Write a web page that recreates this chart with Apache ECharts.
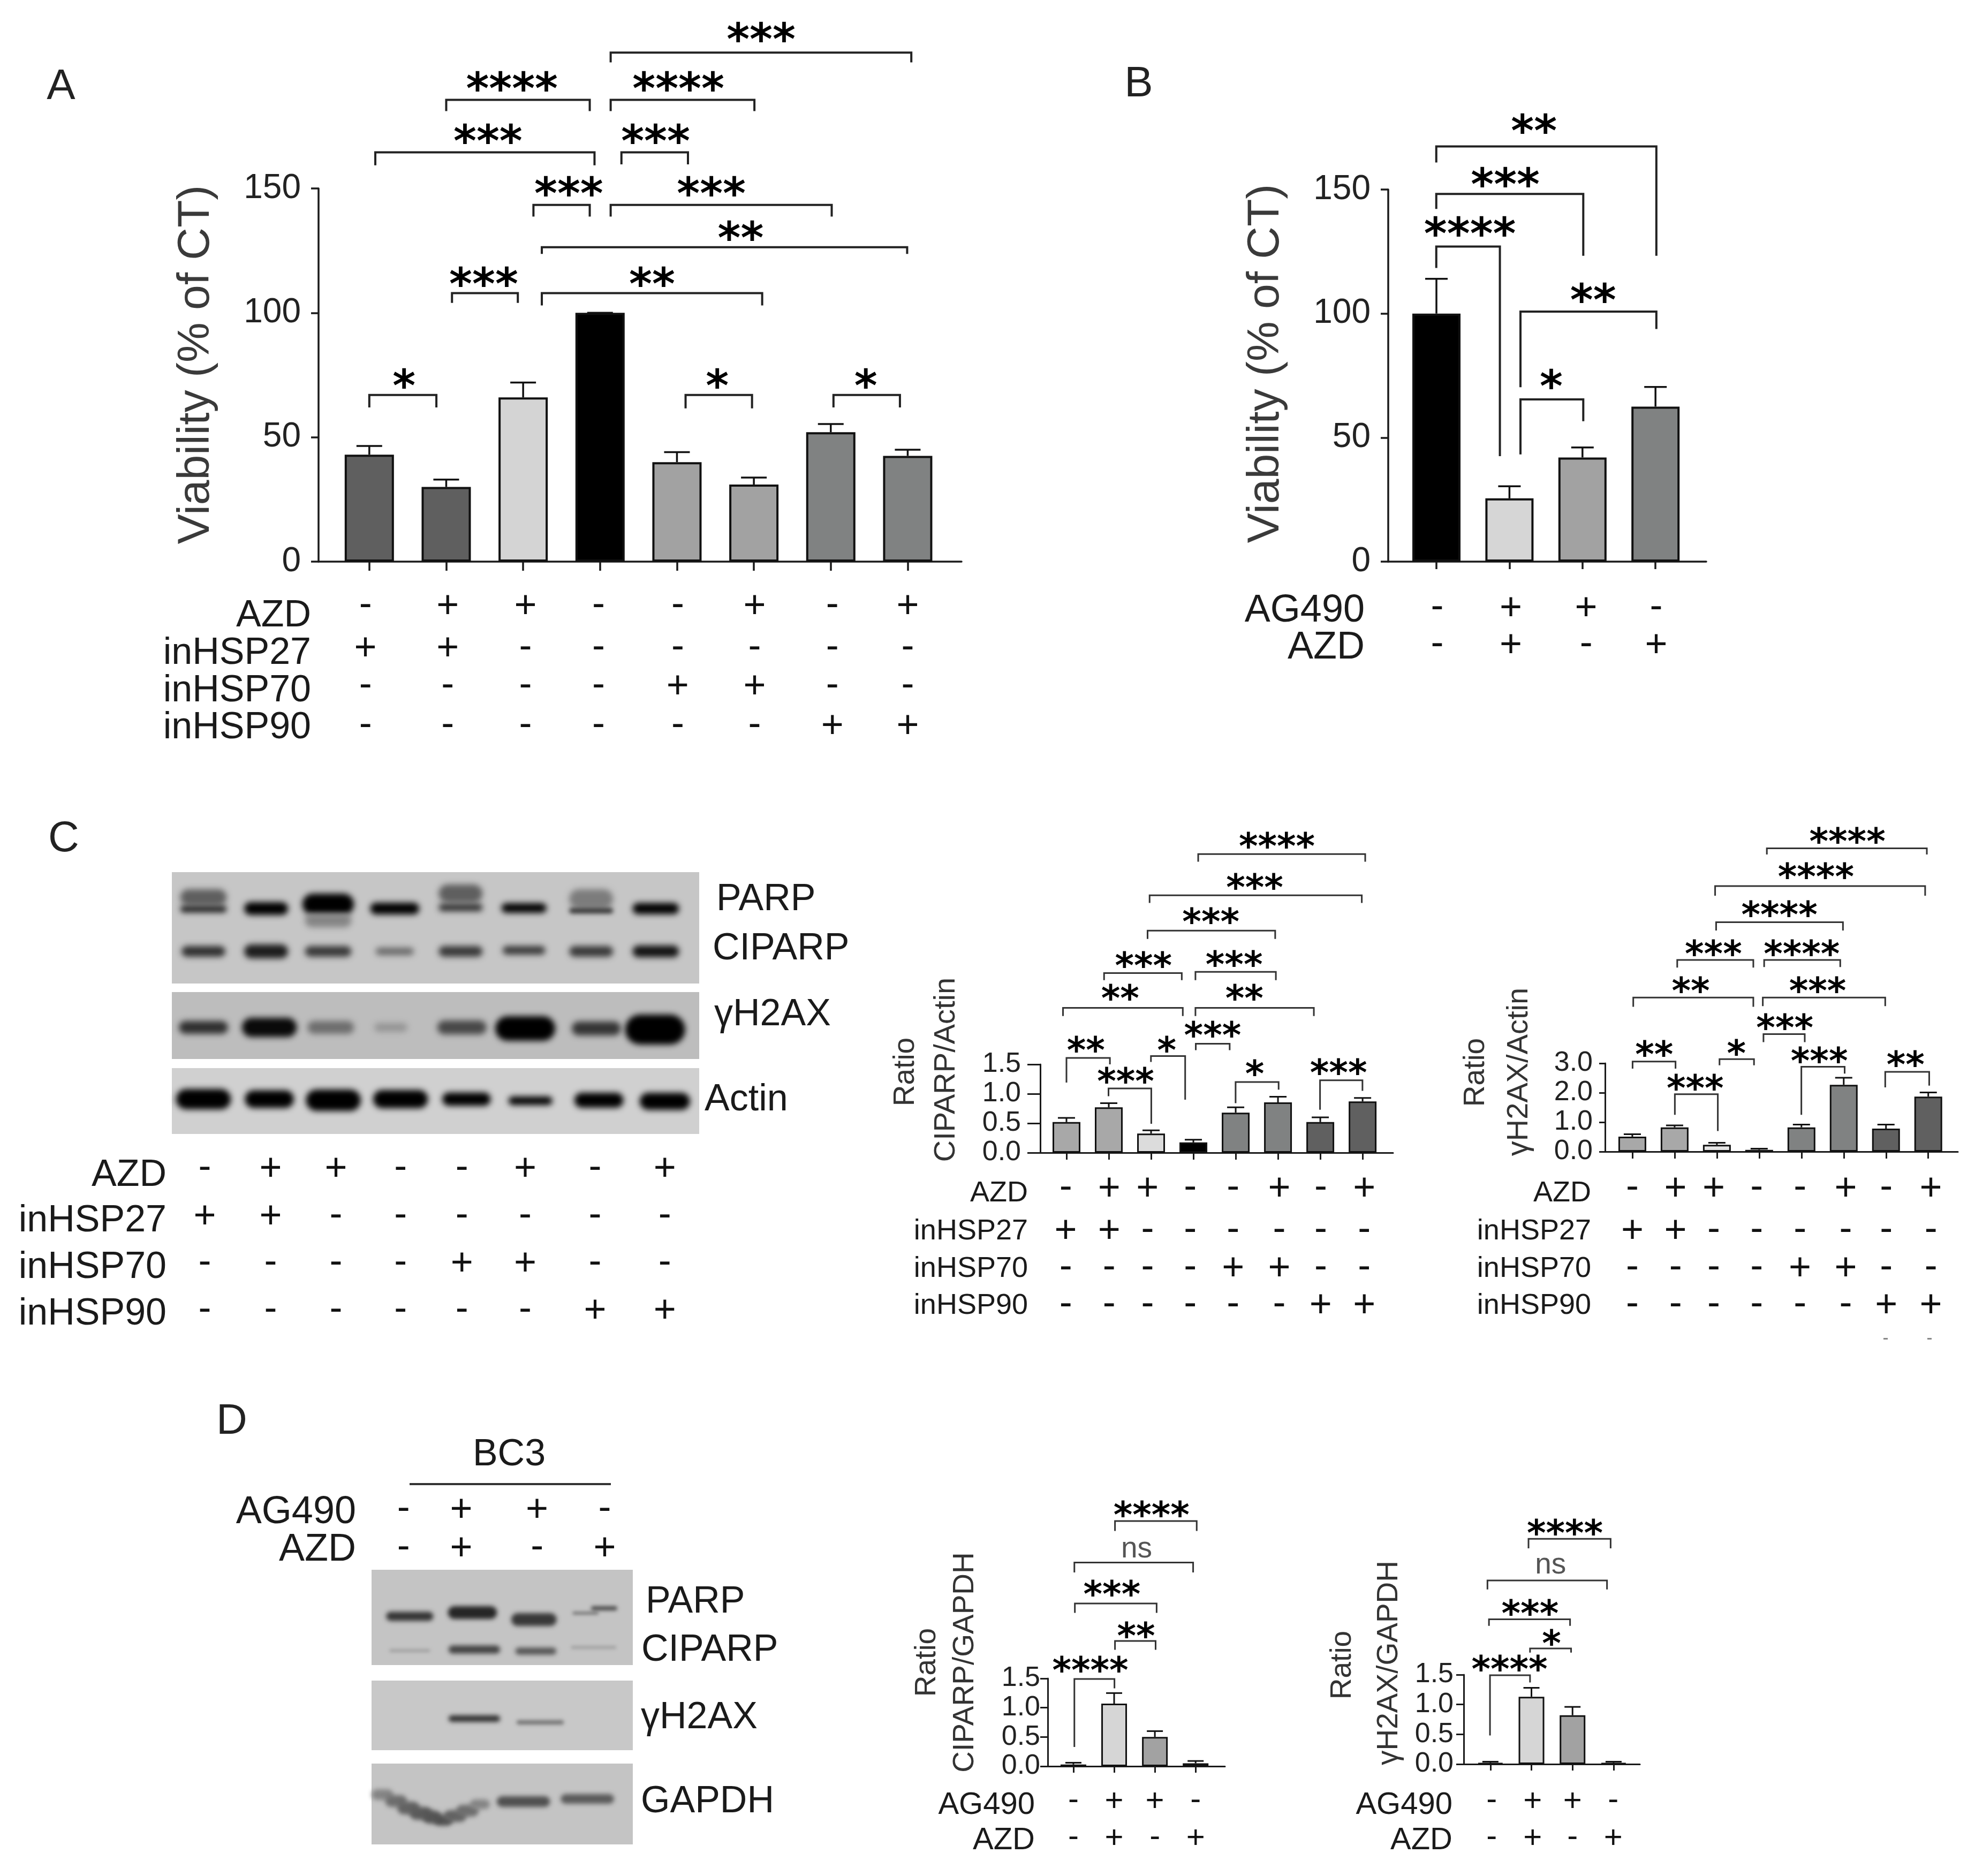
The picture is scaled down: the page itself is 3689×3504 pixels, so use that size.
<!DOCTYPE html>
<html>
<head>
<meta charset="utf-8">
<style>
  html, body { margin: 0; padding: 0; background: #fff; }
  #chart { width: 3689px; height: 3504px; }
</style>
<script src="https://cdn.jsdelivr.net/npm/echarts@6/dist/echarts.min.js"></script>
</head>
<body>
<div id="chart"></div>
<script>
// bar values and the top of each error bar
const aValues = [43, 30, 66, 100, 40, 31, 52, 42.5]
const aErrTop = [46.5, 33, 72, 100, 44, 33.8, 55.3, 45]
const bValues = [100, 25.5, 42, 62.5]
const bErrTop = [114, 30.4, 46, 70.4]
const c1Values = [0.52, 0.77, 0.325, 0.174, 0.68, 0.854, 0.52, 0.87]
const c1ErrTop = [0.59, 0.84, 0.38, 0.22, 0.77, 0.95, 0.6, 0.93]
const c2Values = [0.51, 0.825, 0.23, 0.06, 0.825, 2.27, 0.78, 1.87]
const c2ErrTop = [0.59, 0.89, 0.3, 0.1, 0.92, 2.51, 0.92, 2.01]
const d1Values = [0.03, 1.07, 0.5, 0.05]
const d1ErrTop = [0.06, 1.25, 0.6, 0.09]
const d2Values = [0.02, 1.13, 0.82, 0.02]
const d2ErrTop = [0.04, 1.28, 0.96, 0.04]

// tick labels are built by the value axes from these
const aTicks = [0, 150, 50]
const cdTicks = [0, 1.5, 0.5]
const c2Ticks = [0, 3, 1]

// conditions under the bars
const rowNames8 = ['AZD', 'inHSP27', 'inHSP70', 'inHSP90']
const rows8 = [
  ['-', '+', '+', '-', '-', '+', '-', '+'],
  ['+', '+', '-', '-', '-', '-', '-', '-'],
  ['-', '-', '-', '-', '+', '+', '-', '-'],
  ['-', '-', '-', '-', '-', '-', '+', '+']
]
const rowNames4 = ['AG490', 'AZD']
const rows4 = [
  ['-', '+', '+', '-'],
  ['-', '+', '-', '+']
]

// significance brackets: x1, x2, y, left end, right end, label x, stars (0 = ns), label height above the line
const aBrackets = [
  [0.078, 2.928, 164.5, 159.3, 159.3, 1.542, 3, 31],
  [1.0, 2.866, 185.6, 181.1, 181.1, 1.854, 4, 31],
  [3.138, 5.007, 185.6, 181.1, 181.1, 4.018, 4, 31],
  [3.138, 7.047, 204.6, 200.7, 200.7, 5.093, 3, 35],
  [3.278, 4.143, 164.5, 159.7, 159.7, 3.722, 3, 31],
  [2.134, 2.866, 143.4, 138.7, 138.7, 2.593, 3, 31],
  [3.138, 6.012, 143.4, 138.7, 138.7, 4.447, 3, 31],
  [2.243, 6.993, 126.4, 123.7, 123.7, 4.828, 2, 27],
  [1.075, 1.931, 107.9, 104, 104, 1.487, 3, 27],
  [2.243, 5.108, 107.9, 103, 103, 3.676, 2, 27],
  [0, 0.872, 67, 62, 62, 0.452, 1, 27],
  [4.112, 4.976, 67, 61.6, 61.6, 4.524, 1, 27],
  [6.035, 6.899, 67, 62, 62, 6.455, 1, 27]
]
const bBrackets = [
  [-0.002, 3.012, 167.4, 160.9, 123.3, 1.336, 2, 39],
  [-0.002, 2.011, 148.2, 142.2, 123.3, 0.943, 3, 28],
  [-0.002, 0.869, 127, 118.4, 42.5, 0.459, 4, 34],
  [1.151, 3.012, 100.8, 70.3, 93.8, 2.146, 2, 31],
  [1.151, 2.011, 65.4, 43.2, 56.6, 1.572, 1, 34]
]
const c1Brackets = [
  [3.114, 7.062, 5.07, 4.94, 4.94, 4.974, 4, 23],
  [1.965, 6.981, 4.37, 4.24, 4.24, 4.449, 3, 23],
  [1.917, 4.934, 3.77, 3.63, 3.63, 3.413, 3, 25],
  [0.889, 2.726, 3.05, 2.93, 2.93, 1.82, 3, 22],
  [3.049, 4.95, 3.07, 2.93, 2.93, 3.963, 3, 22],
  [-0.082, 2.75, 2.46, 2.32, 2.32, 1.27, 2, 26],
  [3.049, 5.848, 2.46, 2.32, 2.32, 4.206, 2, 26],
  [3.057, 3.858, 1.85, 1.74, 1.74, 3.454, 3, 24],
  [0, 1.027, 1.61, 1.19, 1.5, 0.46, 2, 23],
  [0.994, 2.005, 1.09, 0.96, 0.49, 1.399, 3, 22],
  [1.997, 2.806, 1.64, 1.54, 0.9, 2.37, 1, 20],
  [3.998, 5.015, 1.2, 0.84, 1.07, 4.449, 1, 24],
  [5.994, 6.997, 1.23, 0.73, 1.05, 6.431, 3, 23]
]
const c2Brackets = [
  [3.182, 6.966, 10.3, 10.09, 10.09, 5.086, 4, 21],
  [1.958, 6.926, 9.02, 8.69, 8.69, 4.342, 4, 26],
  [1.982, 4.982, 7.79, 7.51, 7.51, 3.478, 4, 23],
  [1.062, 2.862, 6.51, 6.25, 6.25, 1.918, 3, 20],
  [3.118, 4.918, 6.51, 6.27, 6.27, 4.006, 4, 20],
  [0.022, 2.862, 5.23, 4.92, 4.92, 1.382, 2, 21],
  [3.086, 5.982, 5.23, 4.94, 4.94, 4.382, 3, 21],
  [3.102, 4.078, 3.99, 3.72, 3.72, 3.606, 3, 21],
  [0.006, 1.022, 3.06, 2.82, 2.82, 0.518, 2, 22],
  [1.006, 2.022, 1.95, 1.25, 0.7, 1.486, 3, 20],
  [2.062, 2.878, 3.14, 2.93, 2.93, 2.462, 1, 19],
  [3.998, 5.022, 2.88, 1.25, 2.65, 4.422, 3, 20],
  [5.982, 7.022, 2.71, 2.18, 2.24, 6.462, 2, 22]
]
const d1Brackets = [
  [1.021, 3.027, 4.19, 4.02, 4.02, 1.917, 4, 20],
  [0.024, 2.939, 3.48, 3.31, 3.31, 1.551, 0, 25],
  [0.036, 2.043, 2.78, 2.62, 2.62, 0.945, 3, 26],
  [1.021, 2.018, 2.14, 1.99, 1.99, 1.538, 2, 18],
  [0.024, 1.008, 1.49, 0.33, 1.33, 0.415, 4, 25]
]
const d2Brackets = [
  [0.928, 2.928, 3.78, 3.62, 3.62, 1.815, 4, 19],
  [-0.072, 2.84, 3.08, 2.93, 2.93, 1.465, 0, 28],
  [-0.035, 1.94, 2.43, 2.32, 2.32, 0.965, 3, 19],
  [0.965, 1.965, 1.94, 1.87, 1.87, 1.49, 1, 18],
  [-0.01, 0.965, 1.49, 0.48, 1.37, 0.465, 4, 20]
]

// blot bands: lane, y, width (lanes), height, darkness
const blotCBands = [
  [0, 47, 0.72, 30, 0.5], [0, 69, 0.72, 13, 0.8],
  [0.97, 68, 0.68, 24, 1],
  [1.93, 60, 0.8, 40, 1], [1.93, 90, 0.72, 26, 0.3],
  [2.96, 68, 0.76, 22, 1],
  [3.98, 40, 0.68, 34, 0.5], [3.98, 66, 0.68, 14, 0.75],
  [4.96, 67, 0.7, 18, 1],
  [6.0, 50, 0.68, 36, 0.35], [6.0, 72, 0.68, 10, 0.75],
  [7.0, 68, 0.72, 21, 1],
  [0, 148, 0.68, 20, 0.75], [0.97, 148, 0.68, 26, 0.85], [1.93, 148, 0.72, 20, 0.7],
  [2.96, 148, 0.59, 14, 0.45], [3.98, 148, 0.68, 20, 0.7], [4.96, 146, 0.66, 16, 0.7],
  [6.0, 148, 0.68, 20, 0.7], [7.0, 148, 0.72, 22, 0.9],
  [0, 290, 0.76, 24, 0.75], [1.02, 290, 0.85, 36, 0.95], [1.97, 290, 0.72, 24, 0.42],
  [2.9, 290, 0.51, 16, 0.22], [4.0, 290, 0.76, 26, 0.62], [4.98, 292, 0.93, 46, 1],
  [6.08, 292, 0.76, 26, 0.72], [6.99, 294, 0.93, 56, 1],
  [0, 424, 0.85, 38, 1], [1.02, 424, 0.76, 33, 1], [2.01, 426, 0.85, 40, 1],
  [3.05, 424, 0.85, 34, 1], [4.07, 424, 0.75, 25, 1], [5.06, 427, 0.68, 16, 1],
  [6.12, 426, 0.76, 28, 1], [7.14, 428, 0.78, 32, 1]
]
const blotDBands = [
  [0.02, 87, 0.76, 17, 0.72], [1.03, 80, 0.79, 24, 0.8], [2.02, 93, 0.73, 24, 0.7],
  [2.85, 81, 0.42, 6, 0.35], [3.15, 72, 0.42, 8, 0.6],
  [0.02, 151, 0.66, 6, 0.15], [1.06, 149, 0.83, 15, 0.65], [2.05, 152, 0.66, 13, 0.55],
  [2.98, 145, 0.73, 5, 0.18],
  [1.06, 278, 0.83, 12, 0.75], [2.12, 285, 0.76, 8, 0.4],
  [-0.42, 420, 0.35, 20, 0.3], [-0.2, 432, 0.35, 22, 0.42], [0, 445, 0.36, 24, 0.48],
  [0.2, 455, 0.36, 24, 0.52], [0.38, 462, 0.3, 24, 0.55],
  [0.56, 468, 0.3, 20, 0.58], [0.75, 460, 0.36, 22, 0.48], [0.95, 450, 0.36, 22, 0.42],
  [1.15, 438, 0.32, 18, 0.3],
  [1.85, 433, 0.86, 20, 0.58], [2.88, 428, 0.86, 18, 0.52]
]

const FONT = '"Liberation Sans"'
const STAR_FONT = '"DejaVu Sans"'
const INK = '#1a1a1a'
const OFFSCREEN = 6000

const grids = []
const xAxes = []
const yAxes = []
const series = []
const texts = []

function textStyle(text, size, color, align, extra) {
  return Object.assign({
    text: text,
    font: size + 'px ' + FONT,
    fill: color || INK,
    align: align || 'center',
    verticalAlign: 'middle',
    textAlign: align || 'center',
    textVerticalAlign: 'middle'
  }, extra || {})
}

// free text: panel letters, rotated axis titles, blot labels
function addText(text, x, y, size, opt) {
  opt = opt || {}
  texts.push({
    type: 'text',
    x: x,
    y: y,
    rotation: opt.rotate ? Math.PI / 2 : 0,
    z: 50,
    style: textStyle(text, size, opt.color, opt.align)
  })
}

function addGrid(box, xMin, xMax, yAxisOpt, xAxisOpt) {
  const index = grids.length
  grids.push({ left: box[0], top: box[1], width: box[2], height: box[3], containLabel: false })
  xAxes.push(Object.assign({ gridIndex: index, type: 'value', min: xMin, max: xMax, show: false, splitLine: { show: false } }, xAxisOpt || {}))
  yAxes.push(Object.assign({ gridIndex: index, type: 'value', show: false, splitLine: { show: false } }, yAxisOpt || {}))
  return index
}

function addRows(index, names, rows, cols, layout) {
  series.push({
    type: 'custom',
    xAxisIndex: index,
    yAxisIndex: index,
    silent: true,
    clip: false,
    z: 20,
    data: names.map((name, r) => [cols[0], r]),
    renderItem(params, api) {
      const r = params.dataIndex
      const children = [{
        type: 'text',
        x: layout.labelX,
        y: layout.labelY[r],
        style: textStyle(names[r], layout.labelSize, INK, 'right')
      }]
      rows[r].forEach((sym, c) => {
        children.push({
          type: 'text',
          x: api.coord([cols[c], 0])[0],
          y: layout.symbolY[r] + (sym === '-' ? -3 : 0),
          style: textStyle(sym, layout.symbolSize, '#111')
        })
      })
      return { type: 'group', children: children }
    }
  })
}

// one bar panel: axes, bars, error bars, brackets and the condition rows
function addBarPanel(p) {
  const ticks = p.ticks
  const tickList = p.values.map((v, i) => i)
  const index = addGrid(p.box, p.xRange[0], p.xRange[1], {
    show: true,
    min: ticks[0],
    max: ticks[1],
    interval: ticks[2],
    axisLine: { show: true, onZero: false, lineStyle: { color: INK, width: p.line } },
    axisTick: { show: true, length: p.yTick, lineStyle: { color: INK, width: p.line } },
    axisLabel: {
      fontFamily: 'Liberation Sans',
      fontSize: p.tickFont,
      color: '#222',
      margin: p.labelMargin,
      showMinLabel: true,
      showMaxLabel: true,
      hideOverlap: false,
      formatter: v => (ticks[2] < 1 || ticks[1] === 3 ? v.toFixed(1) : String(v))
    }
  }, {
    show: true,
    axisLine: { show: true, onZero: false, lineStyle: { color: INK, width: p.line } },
    axisTick: { show: true, length: p.xTick, lineStyle: { color: INK, width: p.line }, customValues: tickList },
    axisLabel: { show: false }
  })

  series.push({
    type: 'bar',
    xAxisIndex: index,
    yAxisIndex: index,
    silent: true,
    barWidth: p.barWidth,
    z: 5,
    data: p.values.map((v, i) => ({
      value: [i, v],
      itemStyle: { color: p.colors[i], borderColor: '#111', borderWidth: p.barBorder }
    }))
  })

  series.push({
    type: 'custom',
    xAxisIndex: index,
    yAxisIndex: index,
    silent: true,
    clip: false,
    z: 4,
    encode: { x: 0, y: 1 },
    data: p.values.map((v, i) => [i, v, p.errTop[i]]),
    renderItem(params, api) {
      const base = api.coord([api.value(0), api.value(1)])
      const top = api.coord([api.value(0), api.value(2)])
      const style = { stroke: '#111', lineWidth: p.line, fill: null }
      return {
        type: 'group',
        children: [
          { type: 'line', shape: { x1: base[0], y1: base[1], x2: top[0], y2: top[1] }, style: style },
          { type: 'line', shape: { x1: top[0] - p.cap / 2, y1: top[1], x2: top[0] + p.cap / 2, y2: top[1] }, style: style }
        ]
      }
    }
  })

  series.push({
    type: 'custom',
    xAxisIndex: index,
    yAxisIndex: index,
    silent: true,
    clip: false,
    z: 10,
    encode: { x: 0, y: 2 },
    data: p.brackets,
    renderItem(params, api) {
      const x1 = api.value(0)
      const x2 = api.value(1)
      const a = api.coord([x1, api.value(3)])
      const b = api.coord([x1, api.value(2)])
      const c = api.coord([x2, api.value(2)])
      const d = api.coord([x2, api.value(4)])
      const stars = api.value(6)
      const gap = api.value(7)
      const labelX = api.coord([api.value(5), 0])[0]
      const label = stars > 0 ? {
        type: 'text',
        x: labelX,
        y: b[1] - gap + p.starFont * 0.21,
        style: textStyle('*'.repeat(stars), p.starFont, '#000', 'center', { font: 'bold ' + p.starFont + 'px ' + STAR_FONT })
      } : {
        type: 'text',
        x: labelX,
        y: b[1] - gap,
        style: textStyle('ns', p.nsFont, '#555')
      }
      return {
        type: 'group',
        children: [
          {
            type: 'polyline',
            shape: { points: [a, b, c, d] },
            style: { stroke: p.bracketColor || '#222', lineWidth: p.bracketLine || p.line, fill: null }
          },
          label
        ]
      }
    }
  })

  addRows(index, p.rowNames, p.rows, p.rowCols, p.rowLayout)
}

// one blot figure: grey strips with soft bands, on hidden lane axes
function addBlot(b) {
  const index = addGrid(b.box, b.xRange[0], b.xRange[1], { min: 0, max: b.box[3], inverse: true })
  series.push({
    type: 'custom',
    xAxisIndex: index,
    yAxisIndex: index,
    silent: true,
    clip: false,
    z: 1,
    encode: { x: 0, y: 1 },
    data: b.strips.map(s => [b.xRange[0], s[0], b.xRange[1], s[1]]),
    renderItem(params, api) {
      const p0 = api.coord([api.value(0), api.value(1)])
      const p1 = api.coord([api.value(2), api.value(3)])
      return {
        type: 'rect',
        shape: { x: p0[0], y: p0[1], width: p1[0] - p0[0], height: p1[1] - p0[1] },
        style: { fill: b.stripColors[params.dataIndex] }
      }
    }
  })
  series.push({
    type: 'custom',
    xAxisIndex: index,
    yAxisIndex: index,
    silent: true,
    clip: false,
    z: 2,
    encode: { x: 0, y: 1 },
    data: b.bands,
    renderItem(params, api) {
      const c = api.coord([api.value(0), api.value(1)])
      const edge = api.coord([api.value(0) + api.value(2) / 2, api.value(1)])
      const h = api.value(3)
      const rx = edge[0] - c[0]
      const g = Math.round(190 * (1 - api.value(4)))
      const color = 'rgb(' + g + ',' + g + ',' + g + ')'
      // the shape sits off the canvas so that only its blurred shadow shows
      return {
        type: 'rect',
        shape: { x: c[0] - rx - OFFSCREEN, y: c[1] - h / 2, width: rx * 2, height: h, r: h / 2 },
        style: {
          fill: color,
          shadowColor: color,
          shadowBlur: Math.min(b.blur, h * 0.6 + 3),
          shadowOffsetX: OFFSCREEN
        }
      }
    }
  })
  addRows(index, b.rowNames, b.rows, b.rowCols, b.rowLayout)
}

addBarPanel({
  box: [595, 352, 1201, 697], xRange: [-0.66, 7.7], ticks: aTicks,
  values: aValues, errTop: aErrTop, brackets: aBrackets,
  colors: ['#5f5f5f', '#5f5f5f', '#d4d4d4', '#000', '#a2a2a2', '#a2a2a2', '#808282', '#808282'],
  barWidth: 92, barBorder: 4, line: 3.5, bracketLine: 4, cap: 48, yTick: 14, xTick: 17,
  tickFont: 64, labelMargin: 33, starFont: 82, nsFont: 55,
  rowNames: rowNames8, rows: rows8, rowCols: [-0.05, 1.02, 2.03, 2.98, 4.01, 5.01, 6.02, 7],
  rowLayout: { labelX: 581, labelSize: 70, labelY: [1151, 1221, 1291, 1360], symbolY: [1133, 1212, 1283, 1357], symbolSize: 72 }
})
addBarPanel({
  box: [2593, 354, 594, 695], xRange: [-0.66, 3.695], ticks: aTicks,
  values: bValues, errTop: bErrTop, brackets: bBrackets,
  colors: ['#000', '#d6d6d6', '#a2a2a2', '#808282'],
  barWidth: 90, barBorder: 4, line: 3.5, bracketLine: 4, cap: 42, yTick: 14, xTick: 14,
  tickFont: 64, labelMargin: 33, starFont: 82, nsFont: 55,
  rowNames: rowNames4, rows: rows4, rowCols: [0.01, 1.02, 2.05, 3.01],
  rowLayout: { labelX: 2549, labelSize: 72, labelY: [1141, 1210], symbolY: [1137, 1206], symbolSize: 72 }
})
addBarPanel({
  box: [1943, 1988, 659, 165], xRange: [-0.62, 7.72], ticks: cdTicks,
  values: c1Values, errTop: c1ErrTop, brackets: c1Brackets,
  colors: ['#a8a8a8', '#a8a8a8', '#dcdcdc', '#000', '#808282', '#808282', '#606060', '#606060'],
  barWidth: 52, barBorder: 3, line: 3, cap: 32, yTick: 24, xTick: 13,
  tickFont: 52, labelMargin: 36, starFont: 68, nsFont: 55,
  bracketColor: '#333',
  rowNames: rowNames8, rows: rows8, rowCols: [-0.017, 1.01, 1.916, 2.928, 3.94, 5.03, 6.01, 7.04],
  rowLayout: { labelX: 1920, labelSize: 54, labelY: [2229, 2300, 2370, 2439], symbolY: [2221, 2300, 2370, 2439], symbolSize: 72 }
})
addBarPanel({
  box: [2998, 1986, 659, 165], xRange: [-0.645, 7.7], ticks: c2Ticks,
  values: c2Values, errTop: c2ErrTop, brackets: c2Brackets,
  colors: ['#a8a8a8', '#a8a8a8', '#e5e5e5', '#000', '#808282', '#808282', '#606060', '#606060'],
  barWidth: 52, barBorder: 3, line: 3, cap: 32, yTick: 11, xTick: 13,
  tickFont: 52, labelMargin: 23, starFont: 68, nsFont: 55,
  bracketColor: '#333',
  rowNames: rowNames8, rows: rows8, rowCols: [0, 1.022, 1.926, 2.942, 3.966, 5.046, 6.006, 7.062],
  rowLayout: { labelX: 2972, labelSize: 54, labelY: [2229, 2300, 2370, 2439], symbolY: [2221, 2300, 2370, 2439], symbolSize: 72 }
})
addBarPanel({
  box: [1957, 3135, 331, 164], xRange: [-0.63, 3.72], ticks: cdTicks,
  values: d1Values, errTop: d1ErrTop, brackets: d1Brackets,
  colors: ['#000', '#d6d6d6', '#a2a2a2', '#222'],
  barWidth: 48, barBorder: 3, line: 3, cap: 30, yTick: 14, xTick: 12,
  tickFont: 52, labelMargin: 14, starFont: 68, nsFont: 55,
  bracketColor: '#333',
  rowNames: rowNames4, rows: rows4, rowCols: [0, 1, 2, 3],
  rowLayout: { labelX: 1933, labelSize: 58, labelY: [3372, 3438], symbolY: [3365, 3434], symbolSize: 60 }
})
addBarPanel({
  box: [2734, 3128, 329, 167], xRange: [-0.65, 3.64], ticks: cdTicks,
  values: d2Values, errTop: d2ErrTop, brackets: d2Brackets,
  colors: ['#000', '#d6d6d6', '#a2a2a2', '#222'],
  barWidth: 48, barBorder: 3, line: 3, cap: 30, yTick: 14, xTick: 12,
  tickFont: 52, labelMargin: 19, starFont: 68, nsFont: 55,
  bracketColor: '#333',
  rowNames: rowNames4, rows: rows4, rowCols: [0.03, 1.03, 2, 2.99],
  rowLayout: { labelX: 2713, labelSize: 58, labelY: [3372, 3438], symbolY: [3365, 3434], symbolSize: 60 }
})

addBlot({
  box: [321, 1629, 985, 489], xRange: [-0.489, 7.672],
  strips: [[0, 208], [224, 349], [366, 489]],
  stripColors: ['#c6c6c6', '#bdbdbd', '#d0d0d0'],
  bands: blotCBands, blur: 12,
  rowNames: rowNames8, rows: rows8, rowCols: [0.02, 1.04, 2.05, 3.05, 4, 4.98, 6.06, 7.14],
  rowLayout: { labelX: 311, labelSize: 70, labelY: [2196, 2281, 2368, 2455], symbolY: [2184, 2273, 2361, 2449], symbolSize: 72 }
})
addBlot({
  box: [694, 2932, 488, 513], xRange: [-0.595, 3.612],
  strips: [[0, 178], [207, 337], [362, 513]],
  stripColors: ['#c4c4c4', '#c8c8c8', '#c4c4c4'],
  bands: blotDBands, blur: 9,
  rowNames: rowNames4, rows: rows4, rowCols: [-0.08, 0.85, 2.07, 3.16],
  rowLayout: { labelX: 665, labelSize: 72, labelY: [2825, 2895], symbolY: [2821, 2893], symbolSize: 72 }
})

// panel letters
addText('A', 114, 163, 80, { color: '#222' })
addText('B', 2127, 158, 80, { color: '#222' })
addText('C', 119, 1568, 80, { color: '#222' })
addText('D', 433, 2656, 80, { color: '#222' })

// axis titles
addText('Viability (% of CT)', 367, 681, 84, { rotate: true, color: '#3a3a3a' })
addText('Viability (% of CT)', 2365, 679, 84, { rotate: true, color: '#3a3a3a' })
addText('Ratio', 1692, 2002, 55, { rotate: true, color: '#333' })
addText('CIPARP/Actin', 1768, 1998, 56, { rotate: true, color: '#333' })
addText('Ratio', 2757, 2003, 55, { rotate: true, color: '#333' })
addText('γH2AX/Actin', 2838, 2002, 56, { rotate: true, color: '#333' })
addText('Ratio', 1732, 3105, 55, { rotate: true, color: '#333' })
addText('CIPARP/GAPDH', 1803, 3105, 55, { rotate: true, color: '#333' })
addText('Ratio', 2508, 3110, 55, { rotate: true, color: '#333' })
addText('γH2AX/GAPDH', 2595, 3106, 55, { rotate: true, color: '#333' })

// blot labels
addText('PARP', 1338, 1681, 70, { align: 'left' })
addText('CIPARP', 1331, 1773, 70, { align: 'left' })
addText('γH2AX', 1334, 1896, 70, { align: 'left' })
addText('Actin', 1316, 2055, 70, { align: 'left' })
addText('BC3', 951, 2718, 70)
addText('PARP', 1206, 2993, 70, { align: 'left' })
addText('CIPARP', 1198, 3083, 70, { align: 'left' })
addText('γH2AX', 1197, 3209, 70, { align: 'left' })
addText('GAPDH', 1197, 3366, 70, { align: 'left' })
texts.push({
  type: 'line',
  z: 50,
  shape: { x1: 765, y1: 2772, x2: 1141, y2: 2772 },
  style: { stroke: '#333', lineWidth: 4 }
})
// two clipped row marks left under the last ratio panel
texts.push({ type: 'rect', z: 50, shape: { x: 3518, y: 2499, width: 8, height: 3 }, style: { fill: '#888' } })
texts.push({ type: 'rect', z: 50, shape: { x: 3600, y: 2499, width: 8, height: 3 }, style: { fill: '#888' } })

const myChart = echarts.init(document.getElementById('chart'), null, { renderer: 'canvas' })
myChart.setOption({
  animation: false,
  backgroundColor: '#fff',
  grid: grids,
  xAxis: xAxes,
  yAxis: yAxes,
  series: series,
  graphic: { elements: texts }
})
</script>
</body>
</html>
